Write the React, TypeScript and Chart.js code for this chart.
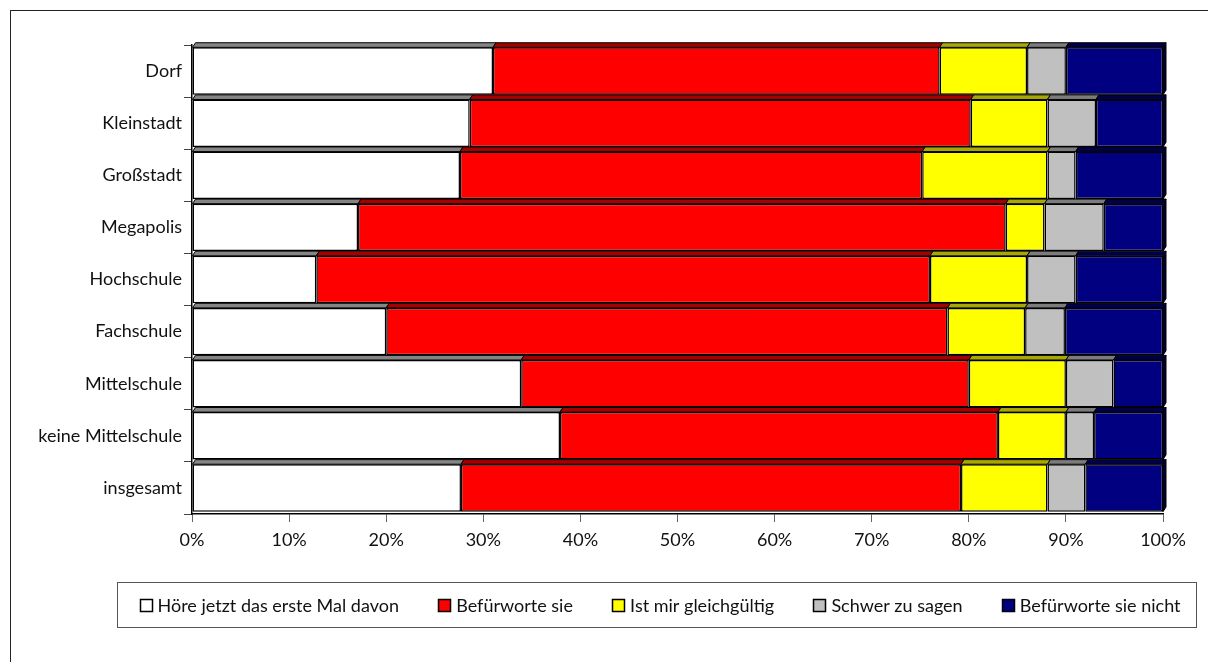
import React, { useEffect, useRef } from "react";
import { Chart, registerables } from "chart.js";

Chart.register(...registerables);

// Survey groups (rows, top to bottom)
const categories = [
  "Dorf",
  "Kleinstadt",
  "Großstadt",
  "Megapolis",
  "Hochschule",
  "Fachschule",
  "Mittelschule",
  "keine Mittelschule",
  "insgesamt",
];

// Answer shares in percent
const firstTime = [31.0, 28.6, 27.6, 17.1, 12.8, 20.0, 33.9, 37.9, 27.7];
const support = [46.0, 51.6, 47.6, 66.7, 63.2, 57.8, 46.1, 45.1, 51.5];
const indifferent = [9.0, 7.9, 12.9, 4.0, 10.0, 8.0, 10.0, 7.0, 8.9];
const hardToSay = [4.0, 5.0, 2.9, 6.1, 5.0, 4.1, 4.9, 2.9, 3.9];
const against = [10.0, 6.9, 9.0, 6.1, 9.0, 10.1, 5.1, 7.1, 8.0];

const seriesLabels = [
  "Höre jetzt das erste Mal davon",
  "Befürworte sie",
  "Ist mir gleichgültig",
  "Schwer zu sagen",
  "Befürworte sie nicht",
];

const xTicks = [0, 10, 20, 30, 40, 50, 60, 70, 80, 90, 100];

const FONT = "Lato";
const FONT_SIZE = 18;

const faceColors = ["#FFFFFF", "#FF0000", "#FFFF00", "#C0C0C0", "#000080"];
const topColors = ["#858585", "#a80000", "#a8a800", "#7c7c7c", "#00004a"];
const sideColor = "#000030";

// Depth of the pseudo-3D bar faces
const DX = 3;
const DY = 4.6;

const barDepthPlugin = {
  id: "barDepth",
  afterDatasetsDraw(chart: any) {
    const ctx = chart.ctx;
    const n = chart.data.datasets.length;
    ctx.save();
    ctx.lineWidth = 1;
    ctx.strokeStyle = "#000";
    for (let d = 0; d < n; d++) {
      const meta = chart.getDatasetMeta(d);
      meta.data.forEach((el: any) => {
        const p = el.getProps(["x", "base", "y", "height"], true);
        const left = Math.min(p.x, p.base);
        const right = Math.max(p.x, p.base);
        const top = p.y - p.height / 2;
        const bottom = p.y + p.height / 2;
        ctx.beginPath();
        ctx.moveTo(left, top);
        ctx.lineTo(left + DX, top - DY);
        ctx.lineTo(right + DX, top - DY);
        ctx.lineTo(right, top);
        ctx.closePath();
        ctx.fillStyle = topColors[d];
        ctx.fill();
        ctx.stroke();
        if (d === n - 1) {
          ctx.beginPath();
          ctx.moveTo(right, top);
          ctx.lineTo(right + DX, top - DY);
          ctx.lineTo(right + DX, bottom - DY);
          ctx.lineTo(right, bottom);
          ctx.closePath();
          ctx.fillStyle = sideColor;
          ctx.fill();
          ctx.stroke();
        }
      });
    }
    ctx.restore();
  },
};

const frameLegendPlugin = {
  id: "frameLegend",
  afterDraw(chart: any) {
    const ctx = chart.ctx;
    ctx.save();
    // outer frame
    ctx.strokeStyle = "#222";
    ctx.lineWidth = 1;
    ctx.strokeRect(10.5, 10.5, 1400, 1000);

    // legend box
    const bx = 117.5, by = 582.5, bw = 1079, bh = 45;
    ctx.strokeStyle = "#555";
    ctx.strokeRect(bx, by, bw, bh);

    ctx.font = `${FONT_SIZE}px ${FONT}`;
    ctx.textBaseline = "middle";
    ctx.textAlign = "left";
    const box = 13;
    const gapText = 5;
    const startX = bx + 22;
    const endX = bx + bw - 16;
    const widths = chart.data.datasets.map((ds: any) => ctx.measureText(ds.label).width);
    const used = widths.reduce((a: number, w: number) => a + box + gapText + w, 0);
    const gapItem = (endX - startX - used) / (widths.length - 1);
    let x = startX;
    const cy = by + bh / 2;
    chart.data.datasets.forEach((ds: any, i: number) => {
      const mx = Math.round(x) + 0.5;
      const my = Math.round(cy - box / 2) + 0.5;
      ctx.fillStyle = ds.backgroundColor;
      ctx.fillRect(mx, my, box - 1, box - 1);
      ctx.strokeStyle = "#000";
      ctx.lineWidth = 1.5;
      ctx.strokeRect(mx, my, box - 1, box - 1);
      x += box + gapText;
      ctx.fillStyle = "#111";
      ctx.fillText(ds.label, x, cy + 1);
      x += widths[i] + gapItem;
    });
    ctx.restore();
  },
};

export default function App() {
  const canvasRef = useRef<HTMLCanvasElement | null>(null);

  useEffect(() => {
    if (!canvasRef.current) return;
    const values = [firstTime, support, indifferent, hardToSay, against];
    const chart = new Chart(canvasRef.current, {
      type: "bar",
      data: {
        labels: categories,
        datasets: values.map((v, i) => ({
          label: seriesLabels[i],
          data: v,
          backgroundColor: faceColors[i],
          borderColor: "#000",
          borderWidth: 1.5,
          borderSkipped: false,
          barPercentage: 0.91,
          categoryPercentage: 1,
        })),
      },
      options: {
        indexAxis: "y",
        animation: false,
        responsive: true,
        maintainAspectRatio: false,
        layout: { padding: { left: 0, top: 45, right: 45, bottom: 108 } },
        plugins: {
          legend: { display: false },
          tooltip: { enabled: false },
        },
        scales: {
          x: {
            stacked: true,
            min: 0,
            max: 100,
            afterBuildTicks: (axis: any) => {
              axis.ticks = xTicks.map((v) => ({ value: v }));
            },
            afterFit: (axis: any) => {
              axis.height = 40;
            },
            ticks: {
              callback: (v: any) => `${v}%`,
              color: "#111",
              font: { family: FONT, size: FONT_SIZE },
              padding: 7,
              maxRotation: 0,
            },
            grid: {
              drawOnChartArea: false,
              drawTicks: true,
              tickLength: 8,
              color: "#666",
            },
            border: { display: true, color: "#000", width: 1.5 },
          },
          y: {
            stacked: true,
            afterFit: (axis: any) => {
              axis.width = 192;
            },
            ticks: {
              color: "#111",
              font: { family: FONT, size: FONT_SIZE },
              padding: 2,
            },
            grid: {
              drawOnChartArea: false,
              drawTicks: true,
              tickLength: 8,
              color: "#444",
              offset: true,
            },
            border: { display: true, color: "#000", width: 1.5 },
          },
        },
      },
      plugins: [barDepthPlugin, frameLegendPlugin],
    });
    return () => chart.destroy();
  }, []);

  return (
    <div
      style={{
        position: "fixed",
        left: 0,
        top: 0,
        width: 1208,
        height: 662,
        background: "#fff",
        overflow: "hidden",
      }}
    >
      <canvas ref={canvasRef} />
    </div>
  );
}
